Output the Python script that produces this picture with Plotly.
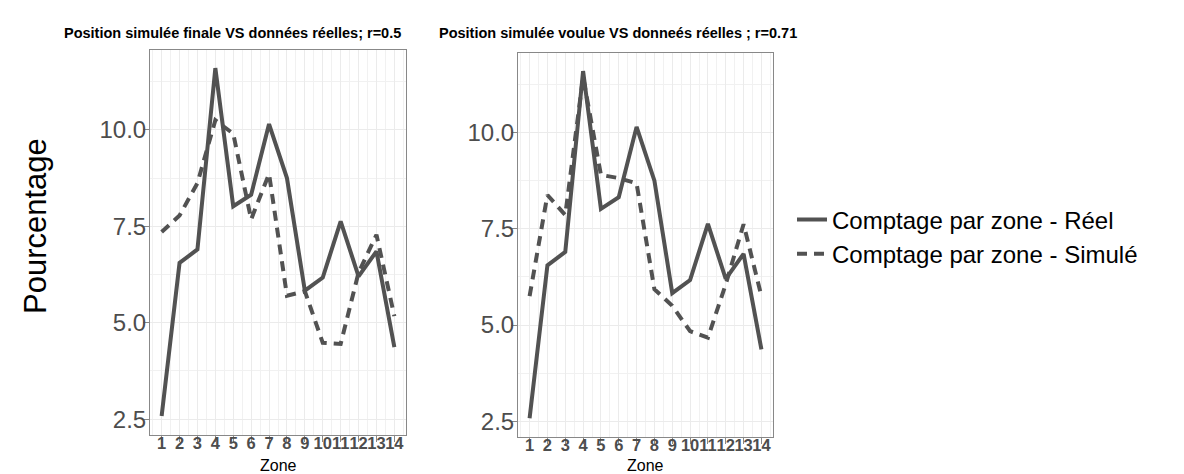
import plotly.graph_objects as go

W, H = 1184, 474

zones = list(range(1, 15))
zone_labels = [str(z) for z in zones]
reel = [2.58, 6.55, 6.90, 11.60, 8.02, 8.32, 10.15, 8.75, 5.83, 6.17, 7.63, 6.20, 6.85, 4.37]
sim_finale = [7.35, 7.78, 8.62, 10.25, 9.90, 7.68, 8.86, 5.70, 5.82, 4.48, 4.45, 6.30, 7.28, 5.17]
sim_voulue = [5.75, 8.38, 7.86, 11.45, 8.90, 8.82, 8.68, 5.93, 5.50, 4.84, 4.67, 6.06, 7.62, 5.75]
y_ticks = [2.5, 5.0, 7.5, 10.0]
y_ticktext = ["2.5", "5.0", "7.5", "10.0"]

titles = ["Position simulée finale VS données réelles; r=0.5",
          "Position simulée voulue VS donneés réelles ; r=0.71"]
name_reel = "Comptage par zone - Réel"
name_sim = "Comptage par zone - Simulé"

LINE = "#525252"
FONT = "Liberation Sans"

fig = go.Figure()

panels = [
    dict(x=(142, 398), y=(42, 427), sim=sim_finale, title_x=224),
    dict(x=(510, 765), y=(45, 429), sim=sim_voulue, title_x=610),
]

for i, p in enumerate(panels):
    sfx = "" if i == 0 else str(i + 1)
    fig.add_trace(go.Scatter(x=zones, y=reel, mode="lines", name=name_reel,
                             line=dict(color=LINE, width=4),
                             xaxis="x" + sfx, yaxis="y" + sfx,
                             showlegend=(i == 0), legendgroup="r"))
    fig.add_trace(go.Scatter(x=zones, y=p["sim"], mode="lines", name=name_sim,
                             line=dict(color=LINE, width=4, dash="10px,7px"),
                             xaxis="x" + sfx, yaxis="y" + sfx,
                             showlegend=(i == 0), legendgroup="s"))
    xa = dict(domain=[p["x"][0] / W, p["x"][1] / W], range=[0.35, 14.65],
              tickmode="array", tickvals=zones, ticktext=zone_labels, tickangle=0,
              tickfont=dict(family=FONT, size=16.5, color="#4D4D4D", weight="bold"),
              ticks="outside", ticklen=6, tickcolor="#888888",
              ticklabelstandoff=-13,
              showline=True, mirror=True, linecolor="#888888", linewidth=1,
              showgrid=True, gridcolor="#EBEBEB", gridwidth=1,
              minor=dict(dtick=0.5, tick0=0.5, showgrid=True, gridcolor="#F1F1F1", gridwidth=1),
              zeroline=False, anchor="y" + sfx)
    ya = dict(domain=[1 - p["y"][1] / H, 1 - p["y"][0] / H], range=[2.09, 12.07],
              tickmode="array", tickvals=y_ticks, ticktext=y_ticktext,
              tickfont=dict(family=FONT, size=24, color="#4D4D4D"),
              ticks="outside", ticklen=6, tickcolor="#888888",
              ticklabelstandoff=-8,
              showline=True, mirror=True, linecolor="#888888", linewidth=1,
              showgrid=True, gridcolor="#EBEBEB", gridwidth=1,
              minor=dict(dtick=1.25, tick0=0, showgrid=True, gridcolor="#F1F1F1", gridwidth=1),
              zeroline=False, anchor="x" + sfx)
    fig.layout["xaxis" + sfx] = xa
    fig.layout["yaxis" + sfx] = ya
    fig.add_annotation(text="<b>" + titles[i] + "</b>", x=p["title_x"] / W, y=1 - 25 / H,
                       xref="paper", yref="paper", showarrow=False,
                       font=dict(family=FONT, size=14.5, color="black"),
                       xanchor="center", yanchor="middle")
    fig.add_annotation(text="Zone", x=(p["x"][0] + p["x"][1]) / 2 / W, y=1 - 457 / H,
                       xref="paper", yref="paper", showarrow=False,
                       font=dict(family=FONT, size=16, color="black"),
                       xanchor="center", yanchor="middle")

fig.add_annotation(text="Pourcentage", x=28 / W, y=1 - 218 / H, xref="paper", yref="paper",
                   showarrow=False, textangle=-90,
                   font=dict(family=FONT, size=31, color="black"),
                   xanchor="center", yanchor="middle")

fig.update_layout(
    width=W, height=H, margin=dict(l=0, r=0, t=0, b=0),
    paper_bgcolor="white", plot_bgcolor="white",
    legend=dict(x=784 / W, y=1 - 229 / H, xanchor="left", yanchor="middle",
                font=dict(family=FONT, size=24, color="black"),
                bgcolor="rgba(0,0,0,0)", itemwidth=30, tracegroupgap=0),
)

fig.write_html("out.html")
